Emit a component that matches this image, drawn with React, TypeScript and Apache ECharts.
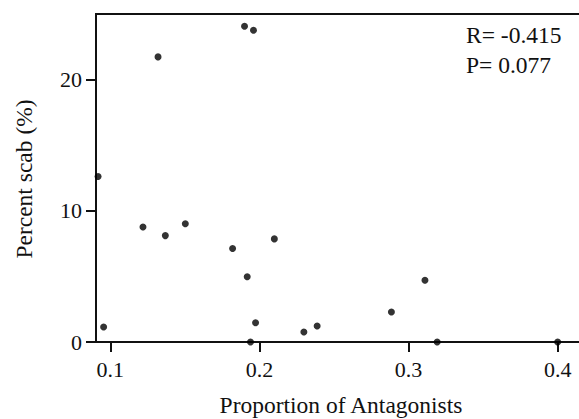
import React, { useEffect, useRef } from "react";
import * as echarts from "echarts";

const proportion = [
  0.132, 0.0918, 0.0955, 0.1219, 0.1369, 0.1503, 0.182, 0.21, 0.1918, 0.1974,
  0.194, 0.2298, 0.2387, 0.2885, 0.311, 0.3192, 0.4, 0.19, 0.196,
];
const percentScab = [
  21.73, 12.62, 1.15, 8.76, 8.11, 9.01, 7.12, 7.86, 4.98, 1.47,
  0, 0.76, 1.22, 2.29, 4.71, 0, 0, 24.07, 23.76,
];
const xTicks = [0.1, 0.2, 0.3, 0.4];
const yTicks = [0, 10, 20];
const statLines = ["R= -0.415", "P= 0.077"];
const xTitle = "Proportion of Antagonists";
const yTitle = "Percent scab (%)";

const X_MIN = 0.0904;
const X_MAX = 0.4143;
const FONT = "'Liberation Serif', 'Times New Roman', serif";
const INK = "#111111";

export default function App() {
  const ref = useRef<HTMLDivElement>(null);
  useEffect(() => {
    if (!ref.current) return;
    const chart = echarts.init(ref.current, undefined, { renderer: "svg" });
    const data = proportion.map((x, i) => [x, percentScab[i]]);
    chart.setOption({
      animation: false,
      backgroundColor: "#ffffff",
      grid: { left: 96, right: 0, top: 14, bottom: 77, containLabel: false },
      xAxis: {
        type: "value",
        min: X_MIN,
        max: X_MAX,
        axisLine: { show: true, lineStyle: { color: INK, width: 2 } },
        axisTick: { show: true, length: 10, customValues: xTicks, lineStyle: { color: INK, width: 2 } },
        axisLabel: {
          customValues: xTicks,
          margin: 16,
          fontFamily: FONT,
          fontSize: 22,
          color: INK,
          formatter: (v: number) => v.toFixed(1),
        },
        splitLine: { show: false },
      },
      yAxis: {
        type: "value",
        min: 0,
        max: 25,
        axisLine: { show: true, lineStyle: { color: INK, width: 2 } },
        axisTick: { show: true, length: 10, customValues: yTicks, lineStyle: { color: INK, width: 2 } },
        axisLabel: {
          customValues: yTicks,
          margin: 14,
          fontFamily: FONT,
          fontSize: 22,
          color: INK,
        },
        splitLine: { show: false },
      },
      series: [
        {
          type: "scatter",
          data,
          symbol: "circle",
          symbolSize: 7,
          clip: false,
          z: 3,
          itemStyle: { color: "#000000" },
        },
      ],
      graphic: [
        {
          type: "line",
          shape: { x1: 95, y1: 14, x2: 579, y2: 14 },
          style: { stroke: INK, lineWidth: 2 },
          z: 10,
        },
        ...statLines.map((t, i) => ({
          type: "text",
          x: 466,
          y: 35 + i * 30,
          style: {
            text: t,
            fontFamily: FONT,
            fontSize: 23.5,
            fill: INK,
            textAlign: "left",
            textVerticalAlign: "middle",
          },
        })),
        {
          type: "text",
          x: 341,
          y: 405,
          style: {
            text: xTitle,
            fontFamily: FONT,
            fontSize: 23.5,
            fill: INK,
            textAlign: "center",
            textVerticalAlign: "middle",
          },
        },
        {
          type: "text",
          x: 24,
          y: 179,
          rotation: Math.PI / 2,
          style: {
            text: yTitle,
            fontFamily: FONT,
            fontSize: 23.5,
            fill: INK,
            textAlign: "center",
            textVerticalAlign: "middle",
          },
        },
      ],
    });
    return () => chart.dispose();
  }, []);
  return (
    <div
      ref={ref}
      style={{ position: "absolute", left: 0, top: 0, width: 579, height: 419 }}
    />
  );
}
